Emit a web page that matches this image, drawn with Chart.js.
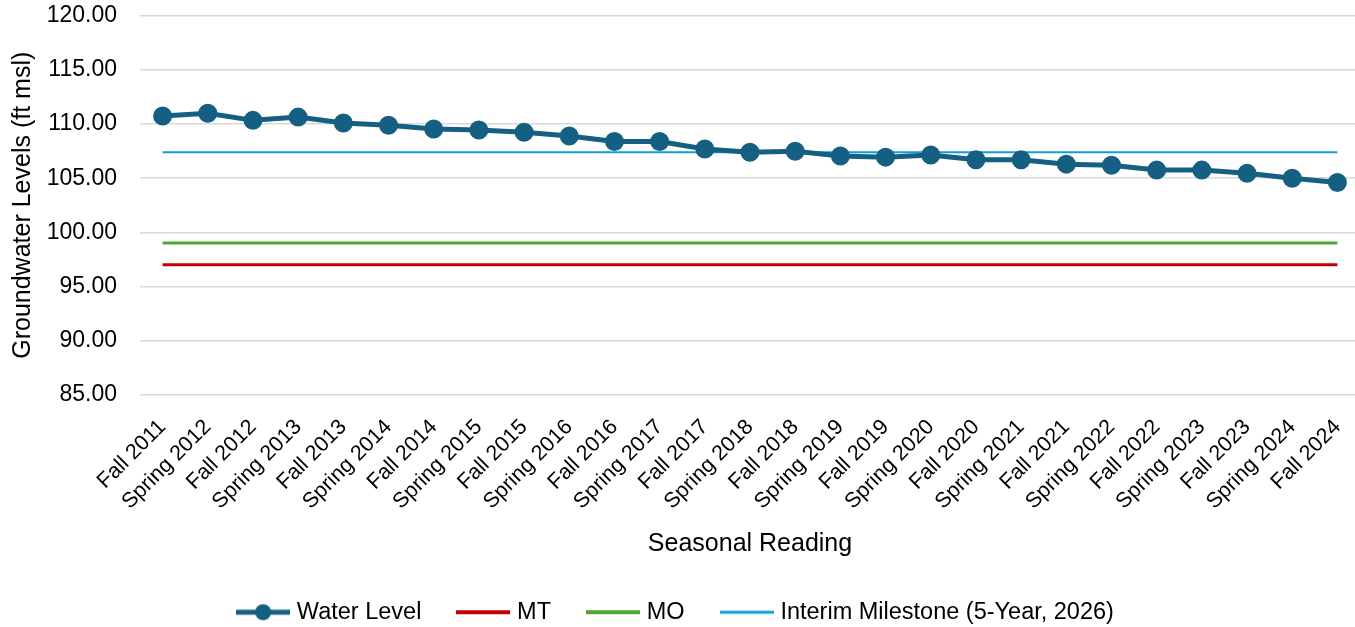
<!DOCTYPE html>
<html>
<head>
<meta charset="utf-8">
<script src="https://cdn.jsdelivr.net/npm/chart.js@4.4.1/dist/chart.umd.min.js"></script>
<style>
  html, body { margin: 0; padding: 0; background: #fff; }
  .wrap { width: 1355px; height: 627px; }
</style>
</head>
<body>
<div class="wrap"><canvas id="myChart"></canvas></div>
<script>
const seasons = [
  'Fall 2011', 'Spring 2012', 'Fall 2012', 'Spring 2013', 'Fall 2013', 'Spring 2014',
  'Fall 2014', 'Spring 2015', 'Fall 2015', 'Spring 2016', 'Fall 2016', 'Spring 2017',
  'Fall 2017', 'Spring 2018', 'Fall 2018', 'Spring 2019', 'Fall 2019', 'Spring 2020',
  'Fall 2020', 'Spring 2021', 'Fall 2021', 'Spring 2022', 'Fall 2022', 'Spring 2023',
  'Fall 2023', 'Spring 2024', 'Fall 2024'
];
const waterLevel = [
  110.75, 111.0, 110.35, 110.65, 110.1, 109.9,
  109.55, 109.45, 109.25, 108.9, 108.4, 108.4,
  107.7, 107.4, 107.5, 107.05, 106.95, 107.15,
  106.7, 106.7, 106.3, 106.2, 105.75, 105.75,
  105.45, 105.0, 104.6
];
const mtLevel = 97.0;
const moLevel = 99.0;
const interimLevel = 107.4;
const yTicks = [85, 90, 95, 100, 105, 110, 115, 120];

const fontFam = "'Liberation Sans', Arial, sans-serif";

// little legend swatches: line, optionally with a dot on it
function swatch(color, lw, dot) {
  const c = document.createElement('canvas');
  c.width = 54; c.height = 18;
  const g = c.getContext('2d');
  g.strokeStyle = color;
  g.lineWidth = lw;
  g.beginPath();
  g.moveTo(0, 9); g.lineTo(54, 9);
  g.stroke();
  if (dot) {
    g.fillStyle = color;
    g.beginPath();
    g.arc(27, 9, 8, 0, Math.PI * 2);
    g.fill();
  }
  return c;
}

const flat = v => seasons.map(() => v);

// plot area runs a few px past the right edge in the original
const stretchRight = {
  id: 'stretchRight',
  afterLayout(chart) {
    const x = chart.scales.x;
    const right = chart.width + 5;
    chart.chartArea.right = right;
    chart.chartArea.width = right - chart.chartArea.left;
    x.right = right;
    x.width = right - x.left;
    x._endPixel = right;
    x._length = right - x._startPixel;
  }
};

const ctx = document.getElementById('myChart').getContext('2d');
new Chart(ctx, {
  type: 'line',
  plugins: [stretchRight],
  data: {
    labels: seasons,
    datasets: [
      {
        label: 'Water Level',
        data: waterLevel,
        borderColor: '#156082',
        backgroundColor: '#156082',
        borderWidth: 5,
        pointRadius: 7,
        pointHoverRadius: 7,
        pointStyle: 'circle',
        legendSwatch: swatch('#156082', 5, true),
        order: 0
      },
      {
        label: 'MT',
        data: flat(mtLevel),
        borderColor: '#C00000',
        backgroundColor: '#C00000',
        borderWidth: 3,
        pointRadius: 0,
        legendSwatch: swatch('#C00000', 4, false),
        order: 3
      },
      {
        label: 'MO',
        data: flat(moLevel),
        borderColor: '#4EA72E',
        backgroundColor: '#4EA72E',
        borderWidth: 3,
        pointRadius: 0,
        legendSwatch: swatch('#4EA72E', 4, false),
        order: 2
      },
      {
        label: 'Interim Milestone (5-Year, 2026)',
        data: flat(interimLevel),
        borderColor: '#0F9ED5',
        backgroundColor: '#0F9ED5',
        borderWidth: 2,
        pointRadius: 0,
        legendSwatch: swatch('#0F9ED5', 3, false),
        order: 1
      }
    ]
  },
  options: {
    responsive: true,
    maintainAspectRatio: false,
    animation: false,
    layout: { autoPadding: false, padding: { top: 16, right: 0, left: 0, bottom: -7 } },
    plugins: {
      tooltip: { enabled: false },
      legend: {
        position: 'bottom',
        labels: {
          usePointStyle: true,
          pointStyleWidth: 44,
          padding: 40,
          color: '#000',
          font: { family: fontFam, size: 23.5 },
          generateLabels: chart => chart.data.datasets.map((ds, i) => ({
            text: ds.label,
            pointStyle: ds.legendSwatch,
            fillStyle: ds.borderColor,
            strokeStyle: ds.borderColor,
            lineWidth: 0,
            fontColor: '#000',
            hidden: false,
            datasetIndex: i
          }))
        }
      }
    },
    scales: {
      x: {
        offset: true,
        grid: { display: false, drawTicks: false },
        border: { display: false },
        afterFit: axis => {
          axis.paddingLeft = 0;
          axis.paddingRight = 0;
          axis.height = 166;
        },
        ticks: {
          color: '#000',
          font: { family: fontFam, size: 21.5 },
          minRotation: 45,
          maxRotation: 45,
          autoSkip: false,
          padding: 20
        },
        title: {
          display: true,
          text: 'Seasonal Reading',
          color: '#000',
          font: { family: fontFam, size: 25 },
          padding: { top: 0, bottom: 1 }
        }
      },
      y: {
        min: yTicks[0],
        max: yTicks[yTicks.length - 1],
        grid: { color: '#d9d9d9', lineWidth: 1.5, drawTicks: false },
        border: { display: false },
        afterBuildTicks: axis => { axis.ticks = yTicks.map(v => ({ value: v })); },
        afterFit: axis => {
          axis.paddingTop = 0;
          axis.paddingBottom = 0;
          axis.width = 140;
        },
        ticks: {
          color: '#000',
          font: { family: fontFam, size: 23 },
          padding: 23,
          callback: v => Number(v).toFixed(2)
        },
        title: {
          display: true,
          text: 'Groundwater Levels (ft msl)',
          color: '#000',
          font: { family: fontFam, size: 25 },
          padding: { top: 8, bottom: 0 }
        }
      }
    }
  }
});
</script>
</body>
</html>
